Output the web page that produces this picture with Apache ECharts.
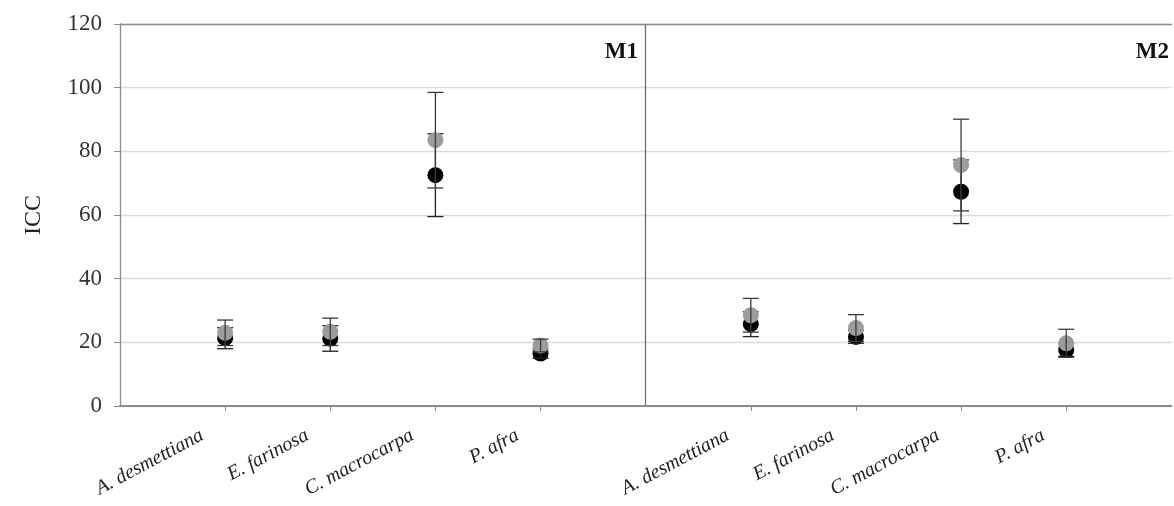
<!DOCTYPE html>
<html>
<head>
<meta charset="utf-8">
<script src="https://cdn.jsdelivr.net/npm/echarts@6/dist/echarts.min.js"></script>
<style>
  html, body { margin: 0; padding: 0; background: #fff; }
  #chart { width: 1174px; height: 506px; }
</style>
</head>
<body>
<div id="chart"></div>
<script>
// Species and panels
const categories = ['A. desmettiana', 'E. farinosa', 'C. macrocarpa', 'P. afra'];
const panels = ['M1', 'M2'];

// ICC means and error half-widths, M1 species then M2 species
const greyMean  = [23.0, 23.3, 83.5, 19.0, 28.5, 24.5, 75.7, 19.7];
const greyErr   = [4.0, 4.3, 15.0, 2.0, 5.3, 4.2, 14.4, 4.4];
const blackMean = [21.3, 21.2, 72.5, 16.5, 25.7, 21.7, 67.3, 17.6];
const blackErr  = [3.3, 4.0, 13.0, 1.5, 3.9, 2.0, 10.0, 2.0];

// Y axis ticks
const yMin = 0, yMax = 120, yStep = 20;

// X slots: an empty slot at each panel boundary, species in between
const slots = [''];
panels.forEach(() => { categories.forEach(c => slots.push(c)); slots.push(''); });
const slotOf = (p, c) => p * (categories.length + 1) + c + 1;
const dividerSlot = categories.length + 1;

function points(means) {
  const out = [];
  panels.forEach((_, p) => categories.forEach((_, c) => {
    out.push([slotOf(p, c), means[p * categories.length + c]]);
  }));
  return out;
}
function bars(means, errs) {
  const out = [];
  panels.forEach((_, p) => categories.forEach((_, c) => {
    const i = p * categories.length + c;
    out.push([slotOf(p, c), means[i] - errs[i], means[i] + errs[i]]);
  }));
  return out;
}

function errorBar(color) {
  return function (params, api) {
    const x = api.value(0);
    const lo = api.coord([x, api.value(1)]);
    const hi = api.coord([x, api.value(2)]);
    const w = 8;
    const style = { stroke: color, lineWidth: 1.3 };
    return {
      type: 'group',
      children: [
        { type: 'line', shape: { x1: lo[0], y1: lo[1], x2: hi[0], y2: hi[1] }, style },
        { type: 'line', shape: { x1: lo[0] - w, y1: lo[1], x2: lo[0] + w, y2: lo[1] }, style },
        { type: 'line', shape: { x1: hi[0] - w, y1: hi[1], x2: hi[0] + w, y2: hi[1] }, style }
      ]
    };
  };
}

const serif = '"Liberation Serif", "DejaVu Serif", serif';
const axisGrey = '#8c8c8c';
const chart = echarts.init(document.getElementById('chart'));

chart.setOption({
  animation: false,
  grid: { left: 120, right: -6, top: 24, bottom: 100 },
  xAxis: [
    {
      type: 'category',
      data: slots,
      boundaryGap: false,
      axisLine: { lineStyle: { color: axisGrey, width: 2 } },
      axisTick: {
        show: true, length: 5,
        interval: (i, v) => v !== '',
        lineStyle: { color: axisGrey }
      },
      axisLabel: {
        interval: 0, rotate: 28, margin: 16,
        padding: [0, 26, 0, 0],
        fontFamily: serif, fontStyle: 'italic', fontSize: 20, color: '#222'
      },
      splitLine: {
        show: true,
        interval: (i) => i === dividerSlot,
        lineStyle: { color: '#6e6e6e', width: 1.3 }
      }
    },
    {
      // plain top frame line
      type: 'category',
      data: slots,
      boundaryGap: false,
      position: 'top',
      axisLine: { lineStyle: { color: axisGrey, width: 1.3 } },
      axisTick: { show: false },
      axisLabel: { show: false },
      splitLine: { show: false }
    }
  ],
  yAxis: {
    type: 'value',
    min: yMin, max: yMax, interval: yStep,
    name: 'ICC', nameLocation: 'middle', nameGap: 74, nameRotate: 90,
    nameTextStyle: { fontFamily: serif, fontSize: 24, color: '#222' },
    axisLine: { show: true, lineStyle: { color: axisGrey, width: 1.3 } },
    axisTick: { show: true, length: 6, lineStyle: { color: axisGrey } },
    axisLabel: { fontFamily: serif, fontSize: 23, color: '#333', margin: 18 },
    splitLine: { lineStyle: { color: '#dcdcdc', width: 1.3 } }
  },
  series: [
    {
      name: 'black', type: 'scatter', data: points(blackMean),
      symbol: 'circle', symbolSize: 16,
      itemStyle: { color: '#000', opacity: 1 }, z: 2
    },
    {
      name: 'black error', type: 'custom', data: bars(blackMean, blackErr),
      renderItem: errorBar('#222'), z: 3
    },
    {
      name: 'grey', type: 'scatter', data: points(greyMean),
      symbol: 'circle', symbolSize: 16,
      itemStyle: { color: '#9c9c9c', opacity: 1 }, z: 4
    },
    {
      name: 'grey error', type: 'custom', data: bars(greyMean, greyErr),
      renderItem: errorBar('#3a3a3a'), z: 5
    }
  ],
  graphic: [
    { type: 'text', right: 536, top: 41,
      style: { text: panels[0], font: 'bold 23px ' + serif, fill: '#111' } },
    { type: 'text', right: 5, top: 41,
      style: { text: panels[1], font: 'bold 23px ' + serif, fill: '#111' } }
  ]
});
</script>
</body>
</html>
